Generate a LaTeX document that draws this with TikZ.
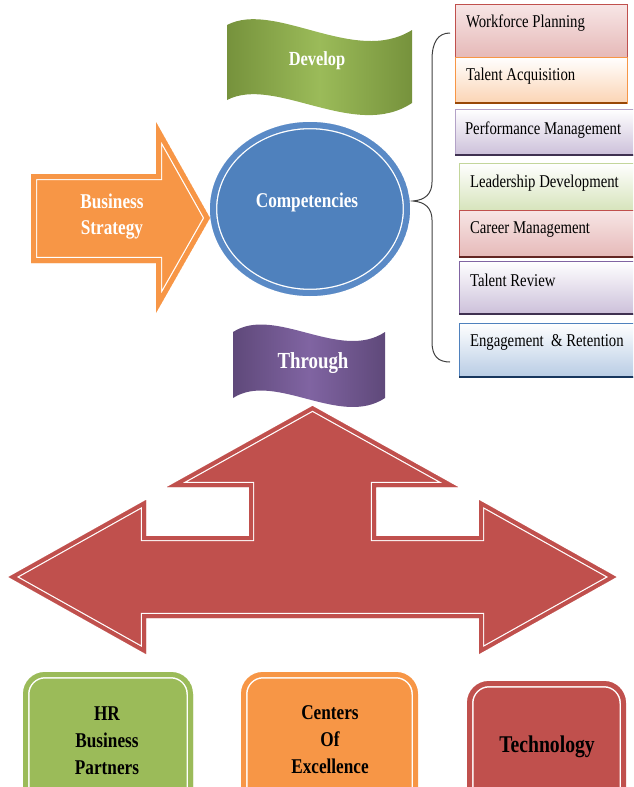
\documentclass[tikz,border=0pt]{standalone}
\usepackage{fontspec}
\setmainfont{Liberation Serif}[FakeStretch=0.82]
\definecolor{orA}{HTML}{F79646}
\definecolor{rdA}{HTML}{C0504D}
\definecolor{grA}{HTML}{9BBB59}
\definecolor{grD}{HTML}{76923C}
\definecolor{blA}{HTML}{4F81BD}
\definecolor{blB}{HTML}{5A8AC6}
\definecolor{puA}{HTML}{8064A2}
\definecolor{puD}{HTML}{5F497A}
\definecolor{puL}{HTML}{CCC0DA}
\definecolor{pkL}{HTML}{E6B9B8}
\definecolor{pkT}{HTML}{F7E6E6}
\definecolor{peL}{HTML}{FBD4B4}
\definecolor{gnL}{HTML}{D7E4BC}
\definecolor{gnB}{HTML}{C3D69B}
\definecolor{bluL}{HTML}{B8CCE4}
\definecolor{rdD}{HTML}{632523}
\definecolor{orD}{HTML}{984806}
\definecolor{puDD}{HTML}{3F3151}
\definecolor{blDD}{HTML}{17365D}
\definecolor{brc}{HTML}{404040}
% #1 path options, #2 fill, #3 border colour, #4 border width, #5 white width, #6 path
\newcommand\framedshape[6]{%
  \begin{scope}
    \clip[#1] #6;
    \fill[#1,fill=#2] #6;
    \draw[#1,white,line width=#5,line join=miter] #6;
    \draw[#1,#3,line width=#4,line join=miter] #6;
  \end{scope}}
\tikzset{
  every node/.style={inner sep=0pt, outer sep=0pt},
  listlbl/.style={anchor=west, text=black, font=\fontsize{18}{20}\selectfont},
  wbold/.style={text=white, align=center, font=\bfseries\fontsize{21}{26}\selectfont},
  kbold/.style={text=black, align=center, font=\bfseries\fontsize{21}{27}\selectfont},
  listbox/.style={draw=#1, line width=0.8pt},
  botline/.style={draw=#1, line width=2.5pt},
}
\begin{document}
\begin{tikzpicture}[x=1pt,y=-1pt]
\useasboundingbox (0,0) rectangle (633,787);
\clip (0,0) rectangle (633,787);

% ---- Develop banner
\shade[left color=grD, right color=grD, middle color=grA]
  (227,25) .. controls (275,0) and (355,66) .. (412,30)
  -- (412,103) .. controls (355,141) and (275,75) .. (227,100) -- cycle;
\node[wbold, font=\bfseries\fontsize{20}{24}\selectfont] (develop) at (317,61) {Develop};

% ---- Business Strategy arrow
\framedshape{}{orA}{orA}{10pt}{12.4pt}{(31,174) -- (156,174) -- (156,122) -- (210,218) -- (156,313) -- (156,263) -- (31,263) -- cycle}
\node[wbold] (strategy) at (112,217) {Business\\Strategy};

% ---- Competencies ellipse
\framedshape{}{blA}{blB}{12pt}{14.6pt}{(310,209) ellipse [x radius=100, y radius=87]}
\node[wbold] (comp) at (307,202) {Competencies};

% ---- Brace
\draw[brc, line width=1pt]
  (450,33) .. controls (438,33) and (432,42) .. (432,60) -- (432,182)
  .. controls (432,194) and (425,200) .. (413,201)
  .. controls (425,202) and (432,208) .. (432,220) -- (432,342)
  .. controls (432,356) and (438,362) .. (450,362);

% ---- List boxes
\path[listbox=rdA, top color=pkT, bottom color=pkL] (455,4) rectangle (627,57);
\path[listbox=orA, top color=white, bottom color=peL] (455,57) rectangle (627,103);
\draw[botline=orD] (455,103) -- (627,103);
\path[listbox=puA!60, top color=white, bottom color=puL] (455,109) rectangle (640,155);
\draw[botline=puDD] (455,155) -- (640,155);
\path[listbox=gnB, top color=white, bottom color=gnL] (459,163) rectangle (640,210);
\path[listbox=rdA, top color=pkT, bottom color=pkL] (459,210) rectangle (640,257);
\draw[botline=rdD] (459,257) -- (640,257);
\path[listbox=puA, top color=white, bottom color=puL] (459,261) rectangle (640,314);
\draw[botline=puDD] (459,314) -- (640,314);
\path[listbox=blA, top color=white, bottom color=bluL] (459,323) rectangle (640,377);
\draw[botline=blDD] (459,377) -- (640,377);

\node[listlbl] (wp) at (466,23) {Workforce Planning};
\node[listlbl] (ta) at (466,76) {Talent Acquisition};
\node[listlbl] (pm) at (465,130) {Performance Management};
\node[listlbl] (ld) at (470,183) {Leadership Development};
\node[listlbl] (cm) at (470,229) {Career Management};
\node[listlbl] (tr) at (470,280) {Talent Review};
\node[listlbl] (er) at (470,342) {Engagement\ \ \& Retention};

% ---- Through banner
\shade[left color=puD, right color=puD, middle color=puA]
  (233,332) .. controls (275,305) and (340,362) .. (385,332)
  -- (385,398) .. controls (340,428) and (275,371) .. (233,398) -- cycle;
\node[wbold, font=\bfseries\fontsize{23}{26}\selectfont] (through) at (313,363) {Through};

% ---- Big red three-way arrow
\framedshape{}{rdA}{rdA}{8pt}{10.4pt}{(312.5,406) -- (458,487) -- (376,487) -- (376,536) -- (479,536) -- (479,500) -- (616.5,577) -- (479,654) -- (479,618) -- (146,618) -- (146,654) -- (8.5,577) -- (146,500) -- (146,536) -- (249,536) -- (249,487) -- (167,487) -- cycle}

% ---- Bottom boxes
\framedshape{rounded corners=22pt}{grA}{grA}{10pt}{13pt}{(23,672) rectangle (193,820)}
\framedshape{rounded corners=22pt}{orA}{orA}{10pt}{13pt}{(241,672) rectangle (418,820)}
\framedshape{rounded corners=22pt}{rdA}{rdA}{10pt}{13pt}{(467,681) rectangle (626,820)}
\node[kbold] (hr) at (107,741) {HR\\Business\\Partners};
\node[kbold] (coe) at (330,740) {Centers\\Of\\Excellence};
\node[kbold, font=\bfseries\fontsize{24}{27}\selectfont] (tech) at (547,747) {Technology};
\end{tikzpicture}
\end{document}
